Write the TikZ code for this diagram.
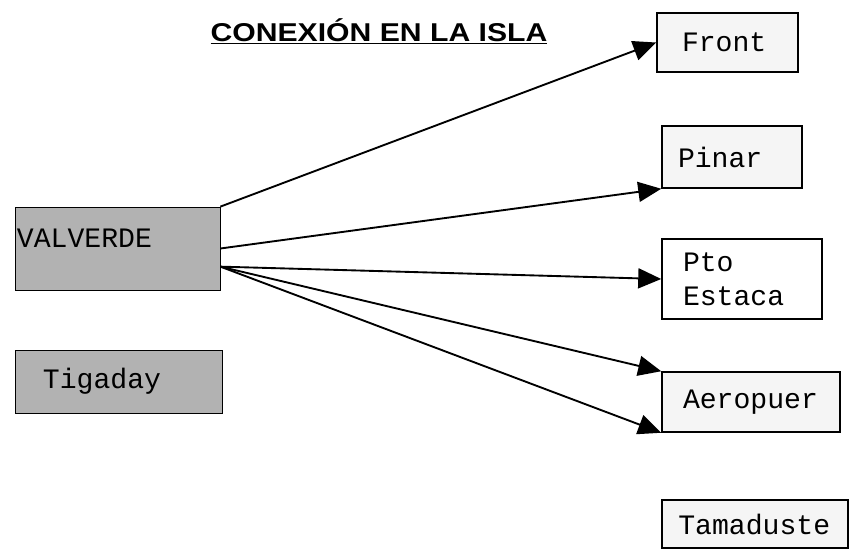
\documentclass[tikz,border=0pt]{standalone}
\usepackage{fontspec}
\setmainfont{Liberation Sans}
\setmonofont{Liberation Mono}
\usetikzlibrary{arrows.meta}

\begin{document}
\begin{tikzpicture}[x=0.03cm, y=-0.03cm,
        town_dark/.style={draw=black, line width=0.6pt, fill=gray!60, rectangle, align=left, font=\fontsize{24}{29}\selectfont\ttfamily, inner ysep=0pt},
        town_light/.style={draw=black, line width=1.3pt, fill=gray!8, rectangle, align=left, font=\fontsize{24}{29}\selectfont\ttfamily, inner ysep=0pt},
        arrow/.style={-{Triangle[length=0.69cm, width=0.6cm]}, line width=1.6pt},
        title/.style={font=\fontsize{22}{24}\selectfont\bfseries}
    ]
    \useasboundingbox (0,0) rectangle (856,559);

    % ================= Title =================
    \node[title] (title) at (379,31) {\scalebox{1.17}[1]{\underline{CONEXIÓN EN LA ISLA}}};

    % ================= Left side =================
    \node[town_dark, text width=6.03cm, inner xsep=0.06cm, minimum height=2.49cm, text depth=0.6cm] (valverde) at (117.5,248.5) {VALVERDE};
    \node[town_dark, text width=4.53cm, inner xsep=0.84cm, minimum height=1.89cm] (tigaday) at (118.5,381.5) {Tigaday};

    % ================= Right side =================
    \node[town_light, text width=2.73cm, inner xsep=0.75cm, minimum height=1.77cm] (front) at (727.5,42.5) {Front};
    \node[town_light, text width=3.24cm, inner xsep=0.48cm, minimum height=1.86cm] (pinar) at (732,157) {Pinar};
    \node[town_light, fill=white, text width=3.54cm, inner xsep=0.63cm, minimum height=2.4cm] (estaca) at (742,279) {Pto\\Estaca};
    \node[town_light, text width=4.08cm, inner xsep=0.63cm, minimum height=1.8cm] (aeropuer) at (751,402) {Aeropuer};
    \node[town_light, text width=4.6cm, inner xsep=0.49cm, minimum height=1.44cm] (tamaduste) at (755,524) {Tamaduste};

    % ================= Connections =================
    \draw[arrow] (valverde.north east) -- (front.west);
    \draw[arrow] (valverde.east) -- (pinar.south west);
    \draw[arrow] (valverde.-10) -- (estaca.west);
    \draw[arrow] (valverde.-10) -- (aeropuer.north west);
    \draw[arrow] (valverde.-10) -- (aeropuer.south west);

\end{tikzpicture}
\end{document}
